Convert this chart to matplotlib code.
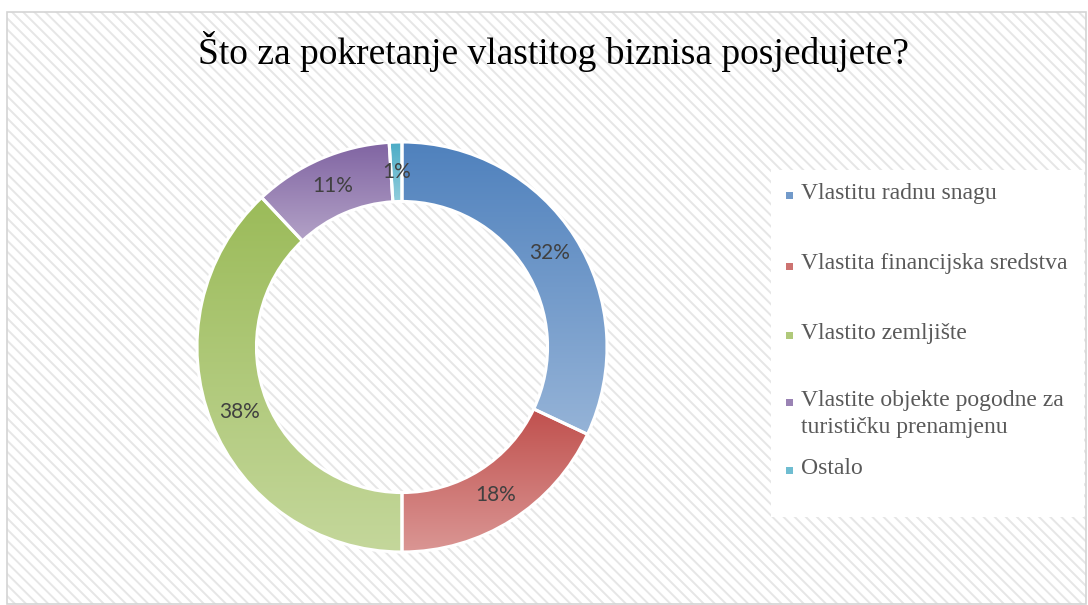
import numpy as np
import matplotlib.pyplot as plt
from matplotlib.colors import LinearSegmentedColormap, to_rgb
from matplotlib.patches import Rectangle

# podaci
categories = ["Vlastitu radnu snagu",
              "Vlastita financijska sredstva",
              "Vlastito zemljište",
              "Vlastite objekte pogodne za\nturističku prenamjenu",
              "Ostalo"]
shares = [32, 18, 38, 11, 1]
title = "Što za pokretanje vlastitog biznisa posjedujete?"

# boje (gradijent od vrha prema dnu)
top_colors = ['#4f81bd', '#c0504d', '#9bbb59', '#8064a2', '#4bacc6']
bottom_colors = ['#95b3d7', '#da9694', '#c4d79b', '#b3a2c7', '#92cddc']

W, H = 1088, 605
plt.rcParams['hatch.linewidth'] = 1.4

fig = plt.figure(figsize=(W / 100, H / 100), dpi=100)

# pozadina s dijagonalnim šrafurama
bg = Rectangle((7 / W, 1 / H), (1086 - 7) / W, (605 - 12 - 1) / H,
               transform=fig.transFigure, facecolor='white',
               edgecolor='#e6e6e6', hatch='\\\\\\', linewidth=0, zorder=0)
fig.add_artist(bg)
border = Rectangle((7 / W, 1 / H), (1086 - 7) / W, (605 - 12 - 1) / H,
                   transform=fig.transFigure, fill=False,
                   edgecolor='#d4d4d4', linewidth=1.2, zorder=0.1)
fig.add_artist(border)

fig.text(554 / W, 1 - 51 / H, title, ha='center', va='center',
         fontsize=27, family='Liberation Serif', color='black')

# prsten
cx, cy, r = 402, 347, 205
ax = fig.add_axes([(cx - r) / W, (H - cy - r) / H, 2 * r / W, 2 * r / H])
wedges, texts, autotexts = ax.pie(
    shares, startangle=90, counterclock=False, radius=1,
    wedgeprops=dict(width=0.29, edgecolor='white', linewidth=2.2),
    autopct='%1.0f%%', pctdistance=0.855,
    textprops=dict(family='Lato', fontsize=15, color='#404040'))

grad = np.linspace(0, 1, 256).reshape(-1, 1)
for w, c0, c1 in zip(wedges, top_colors, bottom_colors):
    ext = w.get_path().get_extents()
    cmap = LinearSegmentedColormap.from_list('g', [c0, c1])
    im = ax.imshow(grad, cmap=cmap, origin='upper', aspect='auto',
                   extent=[ext.x0, ext.x1, ext.y0, ext.y1],
                   interpolation='bilinear', zorder=1)
    im.set_clip_path(w)
    w.set_facecolor('none')
    w.set_zorder(2)
    w.set_clip_on(False)
for t in autotexts:
    t.set_zorder(3)

ax.set_xlim(-1, 1)
ax.set_ylim(-1, 1)
ax.set_aspect('equal')
ax.set_axis_off()

# legenda
leg_box = Rectangle((771 / W, 1 - 517 / H), (1084 - 771) / W, (517 - 170) / H,
                    transform=fig.transFigure, facecolor='white',
                    edgecolor='none', zorder=1)
fig.add_artist(leg_box)
leg_y = [193, 264, 333, 414, 468]
for lab, y, c0, c1 in zip(categories, leg_y, top_colors, bottom_colors):
    nlines = lab.count('\n') + 1
    my = y - (nlines - 1) * 13.5 + 2
    mc = 0.5 * (np.array(to_rgb(c0)) + np.array(to_rgb(c1)))
    fig.add_artist(Rectangle((786 / W, 1 - (my + 3.5) / H), 7 / W, 7 / H,
                             transform=fig.transFigure, facecolor=mc,
                             edgecolor='none', zorder=2))
    fig.text(801 / W, 1 - y / H, lab, ha='left', va='center',
             fontsize=17, family='Liberation Serif', color='#595959',
             linespacing=1.35, zorder=2)

fig.savefig('out.png', dpi=100)
